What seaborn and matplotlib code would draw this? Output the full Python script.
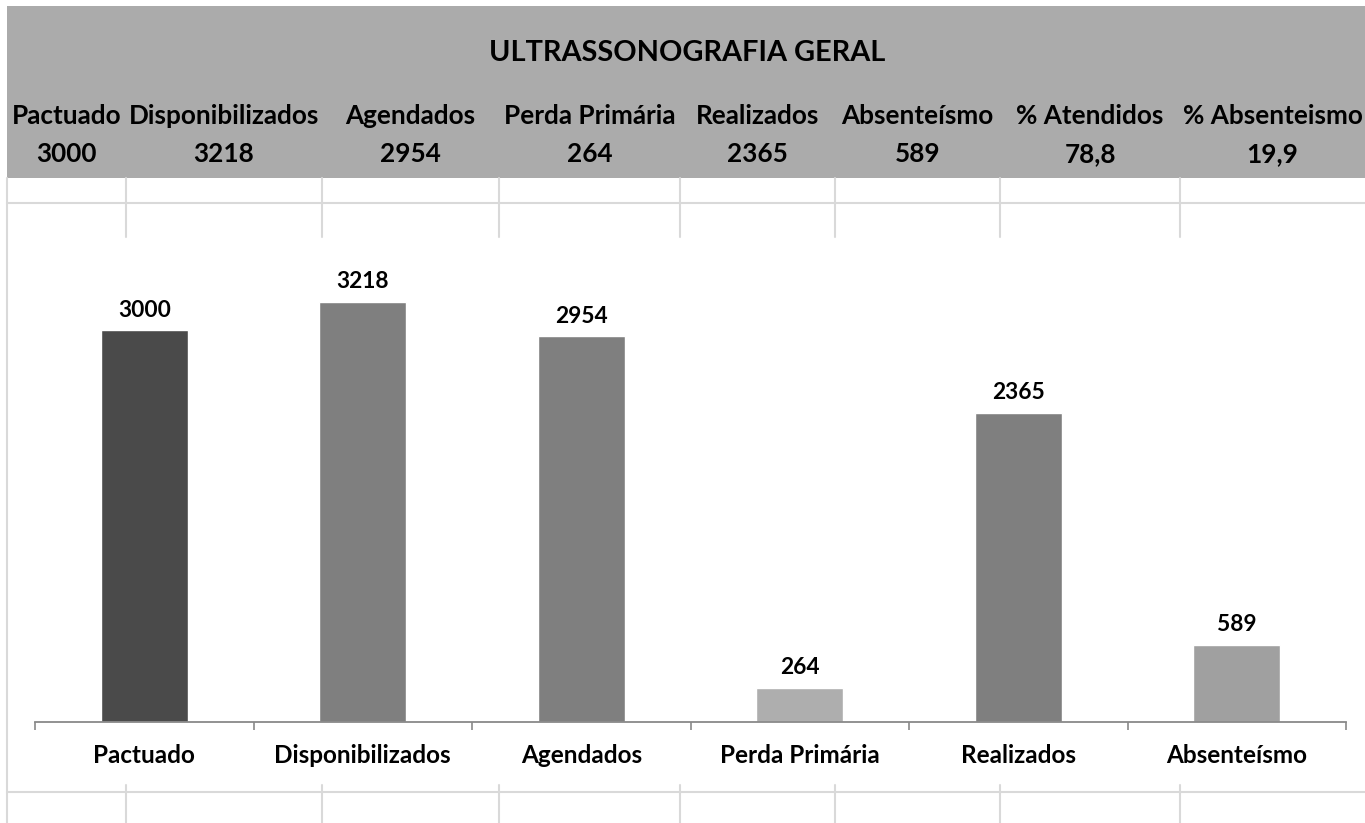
import matplotlib
matplotlib.use('Agg')
import matplotlib.pyplot as plt
import seaborn as sns
from matplotlib.ticker import FixedLocator

# Chart data
categories = ['Pactuado', 'Disponibilizados', 'Agendados', 'Perda Primária', 'Realizados', 'Absenteísmo']
values = [3000, 3218, 2954, 264, 2365, 589]
bar_colors = ['#4a4a4a', '#7f7f7f', '#7f7f7f', '#aeaeae', '#7f7f7f', '#a0a0a0']

# Header table above the chart
title = 'ULTRASSONOGRAFIA GERAL'
header_labels = ['Pactuado', 'Disponibilizados', 'Agendados', 'Perda Primária',
                 'Realizados', 'Absenteísmo', '% Atendidos', '% Absenteismo']
header_values = ['3000', '3218', '2954', '264', '2365', '589', '78,8', '19,9']

FONT = ['Lato', 'DejaVu Sans']
W, H = 1365, 823

sns.set_style('white')
plt.rcParams['font.family'] = FONT
plt.rcParams['text.color'] = 'black'
plt.rcParams['xtick.color'] = '#898989'
plt.rcParams['xtick.labelcolor'] = 'black'

fig = plt.figure(figsize=(W / 100, H / 100), dpi=100)
renderer = fig.canvas.get_renderer()


def fit_size(text, target_px, size=20):
    # pick a font size so the bold text is about target_px wide
    t = fig.text(0, 0, text, fontsize=size, fontweight='bold')
    w = t.get_window_extent(renderer).width
    t.remove()
    return size * target_px / w


title_fs = fit_size(title, 395)
head_fs = fit_size('Disponibilizados', 191)
cat_fs = fit_size('Absenteísmo', 141)
lab_fs = fit_size('3000', 53)

# background "spreadsheet" layer in pixel coordinates
bg = fig.add_axes([0, 0, 1, 1])
bg.set_xlim(0, W)
bg.set_ylim(H, 0)
bg.axis('off')

cells = [7, 126, 322, 499, 680, 835, 1000, 1180, 1365]
grid_c = '#d9d9d9'
bg.add_patch(plt.Rectangle((7, 6), W - 7, 172, color='#ababab', lw=0))
bg.plot([7, W], [203, 203], color=grid_c, lw=1.5)
bg.plot([7, W], [792, 792], color=grid_c, lw=1.5)
bg.plot([7, 7], [178, H], color=grid_c, lw=1.5)
for cx in cells[1:-1]:
    bg.plot([cx, cx], [178, 237], color=grid_c, lw=1.5)
    bg.plot([cx, cx], [785, H], color=grid_c, lw=1.5)

bg.text(687, 53, title, ha='center', va='center', fontsize=title_fs, fontweight='bold')
for i, (lab, val) in enumerate(zip(header_labels, header_values)):
    cx = (cells[i] + cells[i + 1]) / 2
    bg.text(cx, 116, lab, ha='center', va='center', fontsize=head_fs, fontweight='bold')
    bg.text(cx, 154, val, ha='center', va='center', fontsize=head_fs, fontweight='bold')

# bar chart
ax_bottom, ax_top = 722, 265
ax = fig.add_axes([35 / W, 1 - ax_bottom / H, (1346 - 35) / W, (ax_bottom - ax_top) / H])
ax.patch.set_visible(False)
sns.barplot(x=categories, y=values, hue=categories, palette=bar_colors, width=0.4,
            saturation=1, legend=False, ax=ax)
ax.set_xlim(-0.5, len(categories) - 0.5)
ax.set_ylim(0, 3500)

for cont in ax.containers:
    ax.bar_label(cont, padding=7, fontsize=lab_fs, fontweight='bold', color='black')

for side in ['top', 'right', 'left']:
    ax.spines[side].set_visible(False)
ax.spines['bottom'].set_color('#898989')
ax.spines['bottom'].set_linewidth(1.3)
ax.set_yticks([])
ax.set_xlabel('')
ax.set_ylabel('')
ax.xaxis.set_minor_locator(FixedLocator([i - 0.5 for i in range(len(categories) + 1)]))
ax.tick_params(axis='x', which='major', bottom=True, length=0, pad=16, labelsize=cat_fs)
ax.tick_params(axis='x', which='minor', bottom=True, length=6, width=1.2,
               color='#898989', direction='out')
for t in ax.get_xticklabels():
    t.set_fontweight('bold')
    t.set_color('black')

fig.savefig('out.png', dpi=100, facecolor='white')
